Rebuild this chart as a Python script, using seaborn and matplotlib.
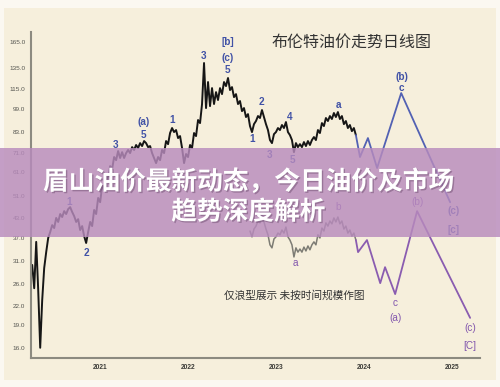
import pandas as pd
import matplotlib
matplotlib.use("Agg")
import matplotlib.pyplot as plt
import matplotlib.patheffects as pe
from matplotlib.patches import Rectangle
from matplotlib.ticker import NullLocator
import seaborn as sns

# Brent daily close (USD/bbl), Mar 2020 - Nov 2023
brent_start = "2020-03-25"
brent_end = "2023-11-28"
brent_close = [
    30.1, 25.2, 35.9, 24.9, 16.0, 23.0, 29.4, 33.2, 37.0, 38.7,
    40.8, 39.9, 43.1, 41.8, 44.4, 43.4, 45.4, 44.4, 46.1, 46.8,
    45.1, 43.7, 41.8, 42.7, 39.3, 40.5, 37.5, 35.6, 38.7, 41.8,
    40.5, 45.8, 44.4, 50.2, 48.6, 55.0, 53.3, 59.3, 58.0, 64.0,
    62.6, 68.6, 67.0, 71.8, 68.1, 71.2, 68.1, 70.7, 72.4, 70.7,
    74.0, 72.4, 75.2, 73.5, 76.3, 74.6, 77.5, 76.3, 74.0, 74.6,
    70.7, 68.1, 65.5, 68.6, 67.0, 72.4, 70.7, 77.5, 75.7, 82.4,
    85.6, 83.0, 84.3, 79.3, 80.5, 73.5, 65.5, 70.2, 68.6, 75.2,
    73.5, 82.4, 80.5, 91.0, 88.9, 102.8, 140.6, 99.7, 121.6, 101.2,
    116.1, 102.8, 112.6, 106.0, 116.1, 110.9, 121.6, 117.9, 125.4, 114.4,
    117.0, 108.4, 110.9, 102.8, 105.2, 97.4, 99.7, 93.1, 95.2,
    86.9, 83.0, 88.2, 90.3, 93.8, 92.4, 98.2, 93.1, 88.2, 84.3,
    78.1, 76.3, 81.7, 83.0, 85.6, 84.3, 87.6, 85.6, 89.6, 83.0,
    81.1, 78.1, 71.2, 76.3, 74.0, 75.7, 74.0, 76.9, 74.6, 77.5,
    75.2, 78.1, 79.9, 78.1, 84.3, 82.4, 88.9, 86.9, 92.4, 90.3,
    93.8, 91.7, 96.0, 93.1, 96.7, 91.7, 93.8, 88.2, 90.3, 85.6,
    87.6, 83.6, 85.6, 81.1,
]

# lower repeat of the late-2022/2023 pattern (grey, second wave count)
ghost_close = [
    39.0, 37.3, 39.6, 40.5, 42.1, 41.5, 44.1, 41.8, 39.6, 37.9,
    35.1, 34.3, 36.7, 37.3, 38.4, 37.9, 39.3, 38.4, 40.2, 37.3,
    36.4, 35.1, 32.0, 34.3, 33.2, 34.0, 33.2, 34.5, 33.5, 34.8,
    33.8, 35.1, 35.9, 35.1, 37.9, 37.0, 39.9, 39.0, 41.5, 40.5,
    42.1, 41.2, 43.1, 41.8, 43.4, 41.2, 42.1, 39.6, 40.5, 38.4,
    39.3, 37.5, 38.4, 36.4,
]

# projected wave paths
proj_upper_dates = ["2023-11-28", "2023-12-15", "2024-01-17", "2024-02-24",
                    "2024-06-03", "2024-12-23"]
proj_upper_price = [81.1, 68.6, 79.3, 63.1, 111.8, 48.6]
proj_lower_dates = ["2023-11-28", "2023-12-07", "2024-01-13", "2024-03-08",
                    "2024-03-28", "2024-05-09", "2024-08-08", "2025-03-16"]
proj_lower_price = [36.4, 33.2, 36.4, 26.2, 29.6, 24.1, 45.4, 20.1]

# wave count labels
upper_text = ["1", "2", "3", "(a)", "5", "1", "3", "[b]", "(c)", "5",
              "1", "2", "3", "4", "5", "a", "(b)", "c", "(c)", "[c]"]
upper_date = ["2020-08-24", "2020-11-03", "2021-03-05", "2021-07-01", "2021-07-01",
              "2021-10-26", "2022-03-05", "2022-06-15", "2022-06-15", "2022-06-12",
              "2022-09-23", "2022-11-03", "2022-12-06", "2023-02-28", "2023-03-12",
              "2023-09-15", "2024-06-08", "2024-06-05", "2025-01-05", "2025-01-05"]
upper_price = [48.6, 33.0, 75.2, 89.6, 81.1, 91.0, 148.3, 165.0, 146.0, 133.0,
               78.7, 104.4, 69.6, 93.1, 67.0, 102.0, 126.3, 116.1, 45.4, 39.3]

lower_text = ["a", "b", "(b)", "c", "(a)", "(c)", "[C]"]
lower_date = ["2023-03-20", "2023-09-15", "2024-08-08", "2024-05-09", "2024-05-09",
              "2025-03-16", "2025-03-16"]
lower_price = [30.5, 46.8, 48.6, 22.5, 20.1, 18.6, 16.2]

y_ticks = [16, 19, 22, 26, 31, 37, 43, 51, 61, 71, 83, 99, 115, 135, 165]
x_years = [2021, 2022, 2023, 2024, 2025]

chart_title = "布伦特油价走势日线图"
note_text = "仅浪型展示 未按时间规模作图"
banner_line1 = "眉山油价最新动态，今日油价及市场"
banner_line2 = "趋势深度解析"

sns.set_theme(style="white")
plt.rcParams["font.family"] = ["Liberation Sans", "DejaVu Sans"]
cjk = ["Noto Sans CJK SC", "DejaVu Sans"]

blue = "#4152a6"
purple = "#8256ad"

fig = plt.figure(figsize=(5, 3.87), dpi=100, facecolor="#fbf8f1")
fig.add_artist(Rectangle((0.008, 0.018), 0.984, 0.961, transform=fig.transFigure,
                         facecolor="#f6efdc", edgecolor="none", zorder=-5))

ax = fig.add_axes([0.062, 0.075, 0.898, 0.842])
ax.patch.set_alpha(0)

dates = pd.date_range(brent_start, brent_end, periods=len(brent_close))
sns.lineplot(x=dates, y=brent_close, ax=ax, color="#161616", linewidth=1.4,
             estimator=None, sort=False)
sns.lineplot(x=dates[-len(ghost_close):], y=ghost_close, ax=ax, color="#7d7c74",
             linewidth=1.1, estimator=None, sort=False)
sns.lineplot(x=pd.to_datetime(proj_upper_dates), y=proj_upper_price, ax=ax,
             color="#5261b3", linewidth=1.3, estimator=None, sort=False)
sns.lineplot(x=pd.to_datetime(proj_lower_dates), y=proj_lower_price, ax=ax,
             color="#8a5cb0", linewidth=1.3, estimator=None, sort=False)

for t, d, p in zip(upper_text, upper_date, upper_price):
    ax.text(pd.Timestamp(d), p, t, ha="center", va="center", fontsize=7.2,
            fontweight="bold", color=blue, clip_on=False)
for t, d, p in zip(lower_text, lower_date, lower_price):
    ax.text(pd.Timestamp(d), p, t, ha="center", va="center", fontsize=7.2,
            color=purple, clip_on=False)

ax.set_yscale("log")
ax.set_ylim(14.8, 178)
ax.set_yticks(y_ticks)
ax.set_yticklabels([f"{v:.1f}" for v in y_ticks])
ax.yaxis.set_minor_locator(NullLocator())
ax.set_xlim(pd.Timestamp("2020-03-20"), pd.Timestamp("2025-04-26"))
ax.set_xticks([pd.Timestamp(f"{y}-01-01") for y in x_years])
ax.set_xticklabels([str(y) for y in x_years])
ax.tick_params(axis="y", length=0, pad=4, labelsize=4.6, labelcolor="#555550")
ax.tick_params(axis="x", length=0, pad=4, labelsize=4.8, labelcolor="#3c3c38")
for lab in ax.get_xticklabels():
    lab.set_fontweight("bold")
ax.set_xlabel("")
ax.set_ylabel("")
for side in ["top", "right"]:
    ax.spines[side].set_visible(False)
for side in ["left", "bottom"]:
    ax.spines[side].set_color("#8c8a80")
    ax.spines[side].set_linewidth(1.5)

fig.text(352 / 500, 1 - 42 / 387, chart_title, ha="center", va="center",
         fontsize=11.5, color="#333333", family=cjk)
fig.text(294 / 500, 1 - 295 / 387, note_text, ha="center", va="center",
         fontsize=7.7, color="#333333", family=cjk)

# purple banner with the headline over the chart
fig.add_artist(Rectangle((0, 1 - 237 / 387), 1, 89 / 387, transform=fig.transFigure,
                         facecolor="#b88bbd", alpha=0.82, edgecolor="none", zorder=5))
shadow = [pe.withSimplePatchShadow(offset=(1, -1), shadow_rgbFace="#5a3a5c", alpha=0.4)]
fig.text(0.498, 1 - 182 / 387, banner_line1, ha="center", va="center", fontsize=18.5,
         fontweight="bold", color="white", family=cjk, zorder=6, path_effects=shadow)
fig.text(0.497, 1 - 212 / 387, banner_line2, ha="center", va="center", fontsize=18.5,
         fontweight="bold", color="white", family=cjk, zorder=6, path_effects=shadow)

fig.savefig("out.png", dpi=100, facecolor=fig.get_facecolor())
